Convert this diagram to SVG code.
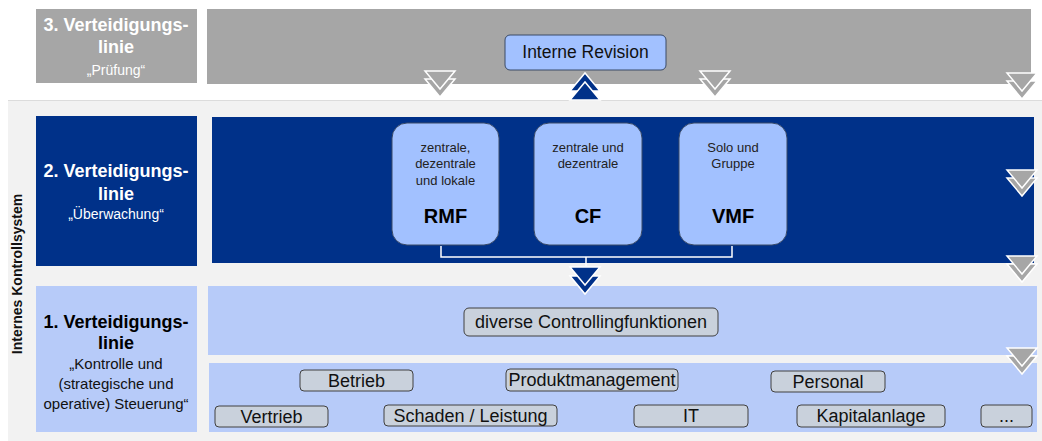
<svg xmlns="http://www.w3.org/2000/svg" width="1042" height="441" viewBox="0 0 1042 441">
<style>
text{font-family:"Liberation Sans",Arial,sans-serif;text-anchor:middle}
.h{font-weight:bold;font-size:18px}
.s{font-size:14px}
.gray{fill:#a6a6a6}
.dark{fill:#003189}
.lane{fill:#b7cbf9}
.fn{fill:#a2c1ff;stroke:#3a4a66;stroke-width:1}
.tag{fill:#c9d1dc;stroke:#404040;stroke-width:1}
.t{font-size:18px;fill:#111}
.small{font-size:13px;fill:#222}
.big{font-size:20px;font-weight:bold;fill:#000}
</style>
<defs>
<g id="arrGray">
<polygon points="-15,8 15,8 0,26" fill="#a6a6a6" stroke="#fff" stroke-width="1.5"/>
<polygon points="-15,0 15,0 0,18" fill="#a6a6a6" stroke="#fff" stroke-width="1.5"/>
</g>
<g id="arrBlueDown">
<polygon points="-15,9 15,9 0,27" fill="#003189" stroke="#fff" stroke-width="1.5"/>
<polygon points="-15,0 15,0 0,18" fill="#003189" stroke="#fff" stroke-width="1.5"/>
</g>
<g id="arrBlueUp">
<polygon points="-15,-9 15,-9 0,-27" fill="#003189" stroke="#fff" stroke-width="1.5"/>
<polygon points="-15,0 15,0 0,-18" fill="#003189" stroke="#fff" stroke-width="1.5"/>
</g>
</defs>
<rect width="1042" height="441" fill="#fff"/>
<rect x="8" y="100" width="1034" height="341" fill="#f2f2f2"/>
<line x1="8" y1="100.5" x2="1042" y2="100.5" stroke="#dcdcdc"/>

<g id="line3">
<rect x="36" y="9" width="161" height="74" class="gray"/>
<text x="116" y="31" class="h" fill="#fff">3. Verteidigungs-</text>
<text x="116" y="53" class="h" fill="#fff">linie</text>
<text x="116" y="75" class="s" fill="#fff">„Prüfung“</text>
<rect x="207" y="9" width="824" height="75" class="gray"/>
</g>
<g id="interne-revision">
<rect x="505" y="35" width="161" height="35" rx="5" class="fn"/>
<text x="585.5" y="58" font-size="17.5" fill="#111">Interne Revision</text>
</g>

<text x="0" y="0" transform="translate(22,274) rotate(-90)" font-size="14" font-weight="bold" fill="#111">Internes Kontrollsystem</text>

<g id="line2">
<rect x="36" y="116" width="161" height="150" class="dark"/>
<text x="116" y="177" class="h" fill="#fff">2. Verteidigungs-</text>
<text x="116" y="200" class="h" fill="#fff">linie</text>
<text x="116" y="219" class="s" fill="#fff">„Überwachung“</text>
<rect x="212" y="117" width="822" height="146" class="dark"/>
</g>
<g id="rmf">
<rect x="392" y="123" width="107" height="122" rx="15" class="fn"/>
<text x="445.5" y="152" class="small">zentrale,</text>
<text x="445.5" y="168" class="small">dezentrale</text>
<text x="445.5" y="185" class="small">und lokale</text>
<text x="445.5" y="223" class="big">RMF</text>
</g>
<g id="cf">
<rect x="534" y="123" width="108" height="122" rx="15" class="fn"/>
<text x="588" y="152" class="small">zentrale und</text>
<text x="588" y="168" class="small">dezentrale</text>
<text x="588" y="223" class="big">CF</text>
</g>
<g id="vmf">
<rect x="679" y="123" width="108" height="122" rx="15" class="fn"/>
<text x="733" y="152" class="small">Solo und</text>
<text x="733" y="168" class="small">Gruppe</text>
<text x="733" y="223" class="big">VMF</text>
</g>

<g id="line1">
<rect x="36" y="286" width="161" height="146" class="lane"/>
<text x="116" y="328" class="h" fill="#000">1. Verteidigungs-</text>
<text x="116" y="349" class="h" fill="#000">linie</text>
<text x="116" y="369" font-size="15" fill="#111">„Kontrolle und</text>
<text x="116" y="389" font-size="15" fill="#111">(strategische und</text>
<text x="116" y="409" font-size="15" fill="#111">operative) Steuerung“</text>
<rect x="208" y="286" width="829" height="69" class="lane"/>
<rect x="209" y="363" width="828" height="69" class="lane"/>
</g>
<g id="controlling">
<rect x="464" y="308" width="254" height="28" rx="5" class="tag"/>
<text x="591" y="328" class="t">diverse Controllingfunktionen</text>
</g>
<g id="betrieb"><rect x="300" y="370" width="113" height="21" rx="4" class="tag"/><text x="356.5" y="387" class="t">Betrieb</text></g>
<g id="produktmanagement"><rect x="506" y="369" width="172" height="22" rx="4" class="tag"/><text x="592" y="386" class="t">Produktmanagement</text></g>
<g id="personal"><rect x="771" y="371" width="114" height="21" rx="4" class="tag"/><text x="828" y="388" class="t">Personal</text></g>
<g id="vertrieb"><rect x="215" y="406" width="113" height="21" rx="4" class="tag"/><text x="271.5" y="423" class="t">Vertrieb</text></g>
<g id="schaden"><rect x="384" y="405" width="173" height="21" rx="4" class="tag"/><text x="470.5" y="422" class="t">Schaden / Leistung</text></g>
<g id="it"><rect x="634" y="405" width="114" height="22" rx="4" class="tag"/><text x="691" y="422" class="t">IT</text></g>
<g id="kapitalanlage"><rect x="797" y="405" width="148" height="22" rx="4" class="tag"/><text x="871" y="422" class="t">Kapitalanlage</text></g>
<g id="more"><rect x="981" y="405" width="51" height="22" rx="4" class="tag"/><text x="1006.5" y="422" class="t">...</text></g>

<g id="connectors">
<path d="M441,246 V257 H732 V246 M586,257 V266" fill="none" stroke="#fff" stroke-width="1.5"/>
<use href="#arrGray" x="440" y="71"/>
<use href="#arrGray" x="715" y="71"/>
<use href="#arrGray" x="1022" y="73"/>
<use href="#arrGray" x="1022" y="170"/>
<use href="#arrGray" x="1022" y="256"/>
<use href="#arrGray" x="1022" y="348"/>
<use href="#arrBlueUp" x="585" y="100"/>
<use href="#arrBlueDown" x="585" y="267"/>
</g>
</svg>
